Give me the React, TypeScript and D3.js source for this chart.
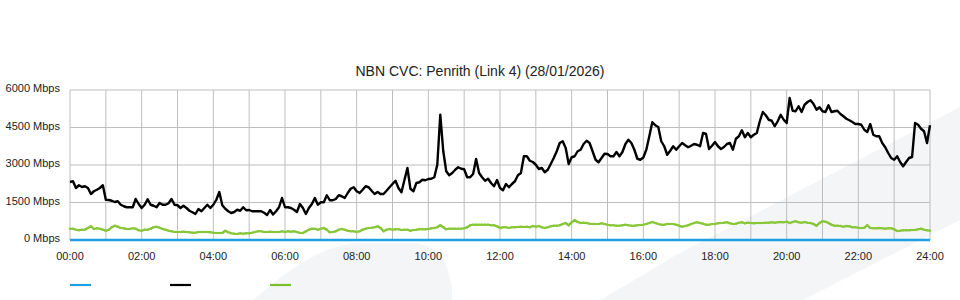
import React from "react";
import * as d3 from "d3";

// ---- data (Mbps, 5-minute samples from 00:00 to 24:00) ----
const title = "NBN CVC: Penrith (Link 4) (28/01/2026)";

const blackValues: number[] = [
  2320, 2350, 2080, 2190, 2120, 2150, 2080, 1840, 1950, 2010,
  2080, 2190, 1610, 1600, 1570, 1520, 1550, 1410, 1350, 1310,
  1310, 1310, 1640, 1440, 1280, 1410, 1630, 1410, 1370, 1310,
  1480, 1410, 1410, 1470, 1640, 1410, 1390, 1280, 1370, 1280,
  1170, 1110, 1040, 1240, 1150, 1280, 1410, 1280, 1410, 1610,
  1920, 1390, 1250, 1150, 1080, 1120, 1210, 1170, 1310, 1190,
  1200, 1150, 1150, 1150, 1150, 1090, 1000, 1200, 1020, 1150,
  1310, 1680, 1310, 1310, 1280, 1210, 1120, 1440, 1280, 1040,
  1280, 1440, 1680, 1410, 1510, 1510, 1790, 1590, 1590, 1640,
  1790, 1750, 1680, 1880, 2050, 2110, 1950,
  1880, 2010, 2150, 2110, 1970, 1840, 1920, 1840, 1840,
  1970, 2110, 2240, 2370, 2080, 1910, 2400, 2880, 2050, 1950,
  2280, 2310, 2410, 2390, 2440, 2450, 2510, 3010, 5010, 3550,
  2750, 2590, 2680, 2810, 2910, 2850, 2830, 2510, 2510, 2640,
  3240, 2680, 2510, 2370, 2450, 2280, 2150, 2400, 2080, 1990,
  2240, 2110, 2240, 2350, 2590, 2680, 3350, 3350, 3170, 3120,
  3010, 2840, 2880, 2710, 2810, 3040, 3280, 3550, 3880, 3950,
  3680, 3040, 3310, 3350, 3550, 3610, 3840, 3970, 3880, 3550,
  3210, 3110, 3280, 3450, 3440, 3350, 3350, 3520, 3350, 3520,
  3840, 4010, 3880, 3610, 3250, 3210,
  3300, 3610, 4150, 4710, 4590, 4520, 3950, 3750, 3410, 3570,
  3750, 3610, 3750, 3880, 3790, 3710, 3770, 3840, 3810, 3750,
  4280, 4240, 3640, 3770, 3920, 3750, 3640, 3720, 3840, 3880,
  3610, 4050, 4150, 4390, 4110, 4280, 4110, 4210, 4280, 4750,
  5120, 4990, 4810, 4770, 4550, 4750, 5010, 4810, 4680, 5680,
  5170, 5150, 5350, 5120, 5410, 5520, 5590, 5440, 5210, 5310,
  5150, 5120, 5390, 5120, 5150, 5170, 5040, 4950, 4850, 4790,
  4720, 4640, 4640, 4610, 4410, 4320, 4640, 4210, 4150, 4150,
  3880, 3710, 3480, 3280, 3210, 3350, 3120, 2950, 3120, 3280,
  3320, 4680, 4610, 4450, 4350, 3880, 4590,
];

const greenValues: number[] = [
  450, 450, 410, 390, 410, 410, 480, 550, 440, 470,
  450, 410, 370, 410, 510, 570, 530, 480, 470, 440,
  440, 470, 450, 390, 370, 410, 410, 450, 510, 530,
  490, 440, 410, 370, 350, 320, 320, 320, 330, 320,
  310, 290, 290, 320, 320, 320, 320, 310, 290, 280,
  280, 280, 370, 310, 270, 250, 240, 270, 250, 270,
  270, 290, 320, 350, 350, 320, 320, 330, 320, 320,
  320, 350, 320, 350, 330, 350, 320, 280, 280, 350,
  410, 450, 450, 410, 450, 480, 410, 310, 320, 350,
  410, 440, 410, 370, 350, 350, 320,
  350, 410, 450, 480, 490, 510, 550, 480, 350,
  410, 440, 410, 430, 430, 400, 410, 410, 370, 400,
  410, 430, 430, 430, 440, 470, 480, 510, 590, 510,
  430, 450, 450, 450, 450, 450, 470, 510, 590, 610,
  610, 610, 610, 610, 610, 590, 590, 550, 480, 510,
  510, 480, 510, 510, 520, 530, 520, 530, 510, 560,
  530, 560, 510, 480, 510, 550, 570, 570, 590, 640,
  680, 590, 710, 790, 720, 680, 690, 680, 650, 640,
  640, 640, 670, 640, 610, 590, 590, 570, 570, 590,
  610, 590, 570, 570, 590, 600,
  610, 640, 680, 720, 680, 640, 610, 610, 640, 640,
  640, 610, 570, 530, 560, 590, 640, 680, 710, 680,
  650, 610, 610, 640, 640, 670, 680, 690, 710, 670,
  640, 650, 690, 710, 670, 690, 680, 670, 680, 680,
  680, 690, 690, 710, 690, 710, 720, 710, 730, 680,
  720, 750, 710, 690, 720, 690, 680, 640, 570, 680,
  750, 730, 680, 610, 570, 570, 560, 530, 560, 550,
  510, 510, 490, 480, 490, 590, 480, 470, 470, 480,
  470, 450, 470, 470, 430, 360, 370, 390, 390, 390,
  400, 400, 430, 450, 410, 390, 370,
];

// blue series reads 0 Mbps for the whole day
const blueValues: number[] = blackValues.map(() => 0);

const xTickLabels = [
  "00:00", "02:00", "04:00", "06:00", "08:00", "10:00", "12:00",
  "14:00", "16:00", "18:00", "20:00", "22:00", "24:00",
];
const yTickValues = [0, 1500, 3000, 4500, 6000];
const yTickLabels = ["0 Mbps", "1500 Mbps", "3000 Mbps", "4500 Mbps", "6000 Mbps"];
const legendColors = ["#1ba1e2", "#000000", "#7cc02c"];

const W = 960;
const H = 300;
const FONT = "'Liberation Sans', Arial, Helvetica, sans-serif";

export default function App() {
  const x = d3.scaleLinear().domain([0, 24]).range([70, 930]);
  const y = d3.scaleLinear().domain([0, 6000]).range([240, 90]);
  const hourOf = (i: number) => (i * 5) / 60;

  const line = d3
    .line<number>()
    .x((_, i) => x(hourOf(i)))
    .y((d) => y(d));

  const hours = d3.range(0, 25);

  return (
    <svg
      width={W}
      height={H}
      style={{ position: "absolute", left: 0, top: 0, background: "#fff" }}
      fontFamily={FONT}
    >
      {/* watermark */}
      <path
        d="M960,107 L676,255 Q640,277 600,300 L803,300 L960,220 Z"
        fill="#f4f5f7"
      />
      <path
        d="M253,300 C290,268 322,246 357,243 L417,243 C432,246 442,255 447,267 L452,287 L452,300 Z"
        fill="#f4f5f7"
      />

      {/* grid */}
      {hours.map((h) => (
        <line
          key={"v" + h}
          x1={x(h)}
          x2={x(h)}
          y1={y(6000)}
          y2={y(0)}
          stroke="#bebebe"
          strokeWidth={1}
        />
      ))}
      {yTickValues.map((v) => (
        <line
          key={"h" + v}
          x1={x(0)}
          x2={x(24)}
          y1={y(v)}
          y2={y(v)}
          stroke="#bebebe"
          strokeWidth={1}
        />
      ))}

      {/* y labels */}
      {yTickValues.map((v, i) => (
        <text
          key={"yl" + v}
          x={60}
          y={y(v) + 2}
          textAnchor="end"
          fontSize={11}
          fill="#222"
        >
          {yTickLabels[i]}
        </text>
      ))}

      {/* x labels */}
      {xTickLabels.map((t, i) => (
        <text
          key={"xl" + t}
          x={x(i * 2)}
          y={260}
          textAnchor="middle"
          fontSize={11}
          fill="#222"
        >
          {t}
        </text>
      ))}

      {/* title */}
      <text x={480} y={76} textAnchor="middle" fontSize={14} fill="#222">
        {title}
      </text>

      {/* series */}
      <path
        d={line(greenValues) || ""}
        fill="none"
        stroke="#7cc02c"
        strokeWidth={2.2}
        strokeLinejoin="round"
      />
      {greenValues.map((v, i) => (
        <circle
          key={"g" + i}
          cx={x(hourOf(i))}
          cy={y(v)}
          r={1.3}
          fill="#8cc83c"
        />
      ))}
      <path
        d={line(blackValues) || ""}
        fill="none"
        stroke="#000"
        strokeWidth={2.4}
        strokeLinejoin="round"
      />
      <path
        d={line(blueValues) || ""}
        fill="none"
        stroke="#1ba1e2"
        strokeWidth={2.5}
      />

      {/* legend */}
      {legendColors.map((c, i) => (
        <line
          key={"lg" + i}
          x1={70 + i * 100}
          x2={91 + i * 100}
          y1={285}
          y2={285}
          stroke={c}
          strokeWidth={2.2}
        />
      ))}
    </svg>
  );
}
